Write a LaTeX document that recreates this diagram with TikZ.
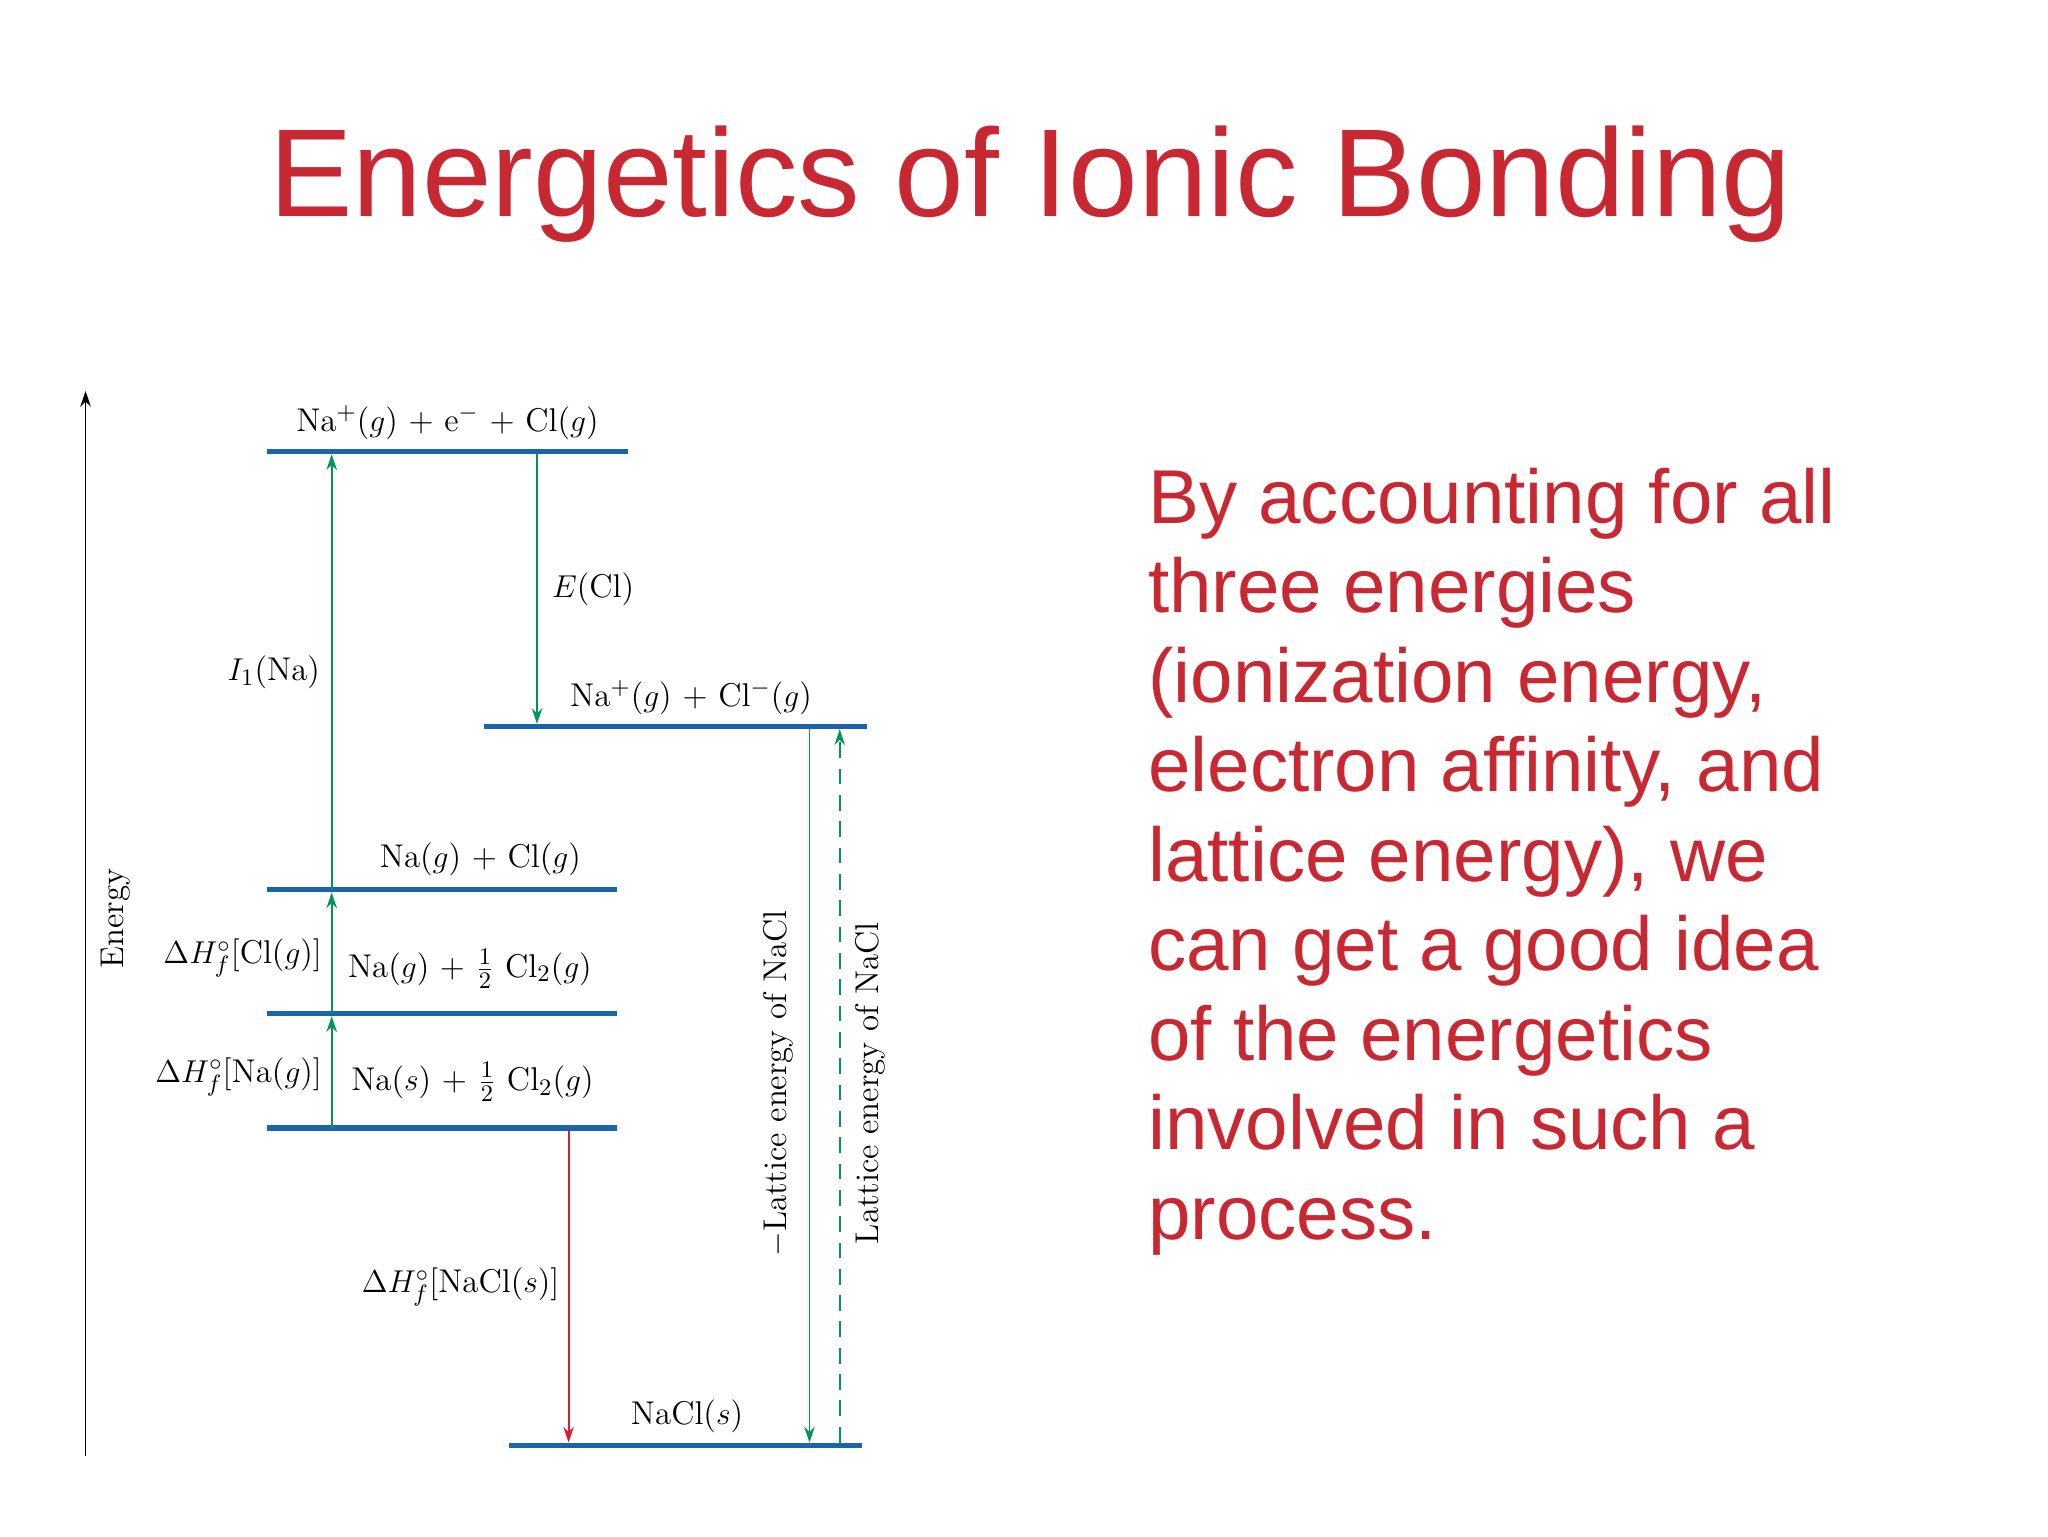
\documentclass[tikz,border=0pt]{standalone}
\usepackage{fontspec}
\newfontfamily\osans{Liberation Sans}
\usetikzlibrary{arrows.meta}
\definecolor{lvl}{RGB}{25,100,170}
\definecolor{grn}{RGB}{0,150,85}
\definecolor{rd}{RGB}{215,30,55}
\definecolor{ttl}{RGB}{200,40,50}
\begin{document}
\begin{tikzpicture}[x=0.5pt,y=-0.5pt,
  level/.style={draw=lvl,line width=2pt},
  lab/.style={font=\fontsize{12.5}{14}\selectfont,inner sep=1pt},
  garr/.style={draw=grn,line width=0.7pt,-{Stealth[length=6pt,width=4pt]}},
  rarr/.style={draw=rd,line width=0.7pt,-{Stealth[length=6pt,width=4pt]}}]
\useasboundingbox (0,0) rectangle (1556,1167);
\node[font=\osans\fontsize{47.5}{56}\selectfont,text=ttl] (title) at (783,140) {Energetics of Ionic Bonding};
\node[font=\osans\fontsize{29}{34}\selectfont,text=ttl,anchor=north west,align=left,inner sep=0pt] (body) at (872,355) {By accounting for all\\three energies\\(ionization energy,\\electron affinity, and\\lattice energy), we\\can get a good idea\\of the energetics\\involved in such a\\process.};
% axis
\coordinate (ax0) at (65,1106); \coordinate (ax1) at (65,297);
\draw[line width=0.7pt,-{Stealth[length=6pt,width=4pt]}] (ax0) -- (ax1);
\node[lab,rotate=90] (elab) at (88,698) {Energy};
% levels
\coordinate (a1) at (203,343); \coordinate (b1) at (477,343);
\coordinate (a2) at (368,552); \coordinate (b2) at (659,552);
\coordinate (a3) at (203,676); \coordinate (b3) at (469,676);
\coordinate (a4) at (203,770); \coordinate (b4) at (469,770);
\coordinate (a5) at (203,857); \coordinate (b5) at (469,857);
\coordinate (a6) at (387,1098); \coordinate (b6) at (655,1098);
\foreach \i in {1,...,6} \draw[level] (a\i) -- (b\i);
\node[lab] (t1) at (340,321) {Na$^+$($g$) + e$^-$ + Cl($g$)};
\node[lab] (t2) at (525,530) {Na$^+$($g$) + Cl$^-$($g$)};
\node[lab] (t3) at (365,653) {Na($g$) + Cl($g$)};
\node[lab] (t4) at (357,736) {Na($g$) + $\frac{1}{2}$ Cl$_2$($g$)};
\node[lab] (t5) at (359,822) {Na($s$) + $\frac{1}{2}$ Cl$_2$($g$)};
\node[lab] (t6) at (522,1076) {NaCl($s$)};
% arrows
\coordinate (g1s) at (252,857); \coordinate (g1e) at (252,772);
\coordinate (g2s) at (252,770); \coordinate (g2e) at (252,678);
\coordinate (g3s) at (252,676); \coordinate (g3e) at (252,345);
\draw[garr] (g1s) -- (g1e);
\draw[garr] (g2s) -- (g2e);
\draw[garr] (g3s) -- (g3e);
\node[lab] (i1) at (208,511) {$I_1$(Na)};
\node[lab,anchor=east] (hcl) at (247,728) {$\Delta H_f^\circ$[Cl($g$)]};
\node[lab,anchor=east] (hna) at (247,818) {$\Delta H_f^\circ$[Na($g$)]};
\coordinate (es) at (408,345); \coordinate (ee) at (408,550);
\draw[garr] (es) -- (ee);
\node[lab,anchor=west] (ecl) at (417,448) {$E$(Cl)};
\coordinate (rs) at (432,859); \coordinate (re) at (432,1096);
\draw[rarr] (rs) -- (re);
\node[lab] (hnacl) at (350,978) {$\Delta H_f^\circ$[NaCl($s$)]};
\coordinate (ls) at (615,554); \coordinate (le) at (615,1096);
\draw[garr] (ls) -- (le);
\node[lab,rotate=90] (ml) at (591,823) {$-$Lattice energy of NaCl};
\coordinate (ds) at (638,1096); \coordinate (de) at (638,554);
\draw[garr,dash pattern=on 6pt off 4pt] (ds) -- (de);
\node[lab,rotate=90] (pl) at (661,823) {Lattice energy of NaCl};
\end{tikzpicture}
\end{document}
